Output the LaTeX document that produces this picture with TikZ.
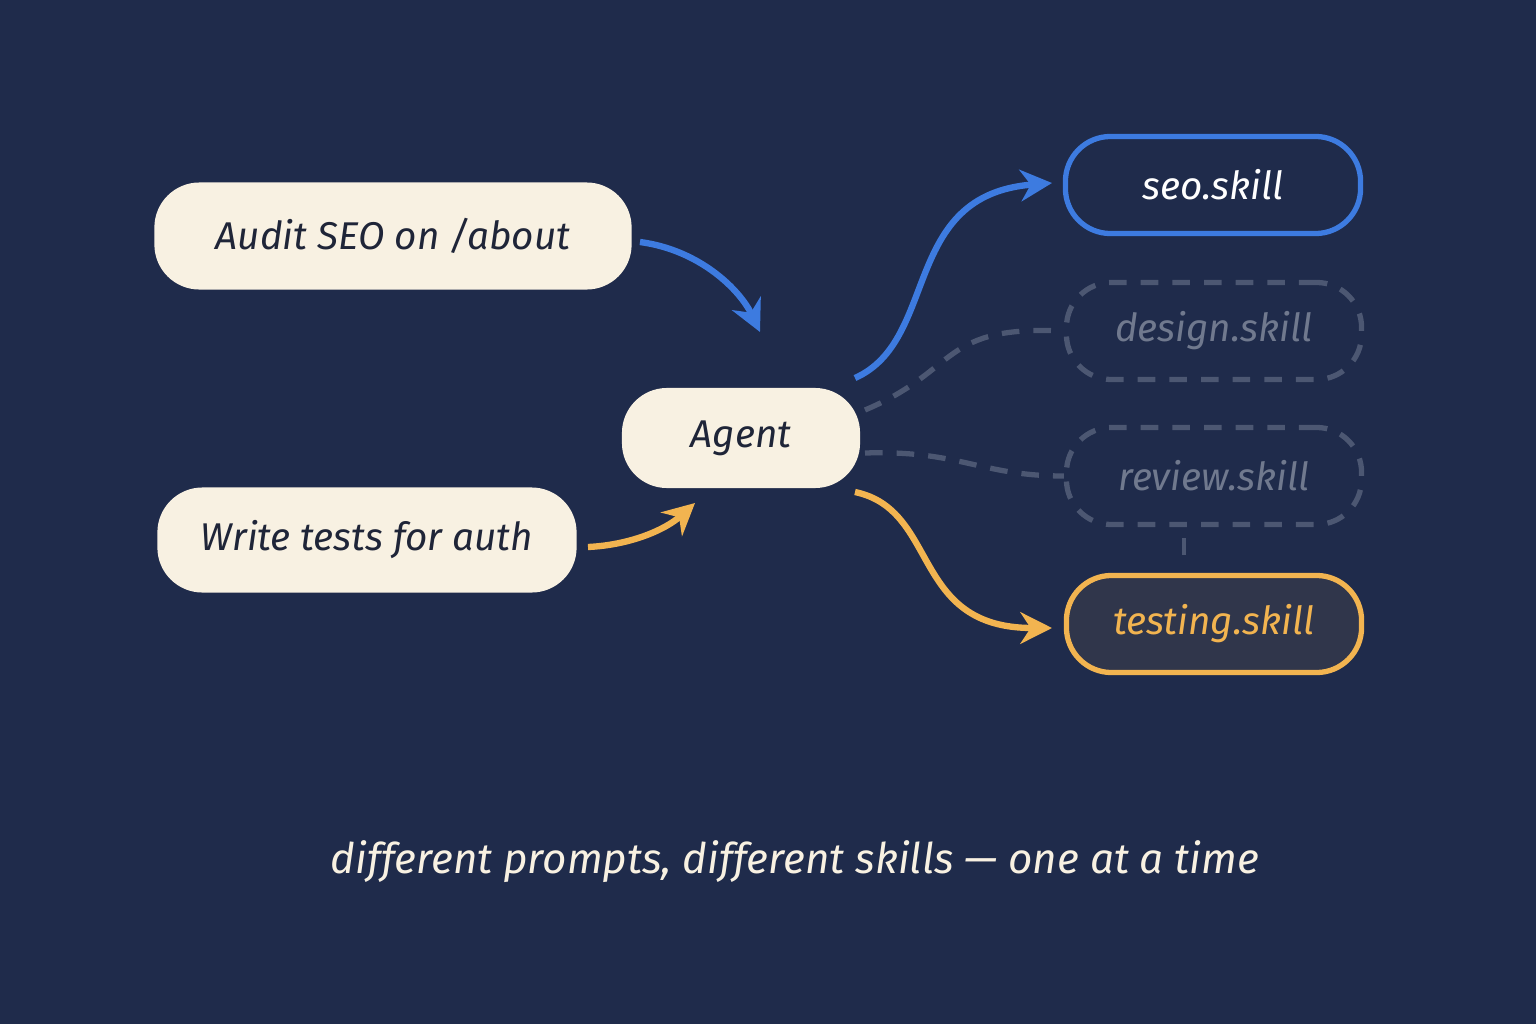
\documentclass[tikz,border=0pt]{standalone}
\usepackage{fontspec}
\setmainfont{Fira Sans}
\usetikzlibrary{arrows.meta}
\definecolor{bg}{HTML}{1F2B4B}
\definecolor{cream}{HTML}{F8F1E2}
\definecolor{blu}{HTML}{3D7BE0}
\definecolor{org}{HTML}{F2B450}
\definecolor{gry}{HTML}{4C5772}
\definecolor{txt}{HTML}{1F2538}
\begin{document}
\begin{tikzpicture}[x=0.01cm,y=-0.01cm,
 prompt/.style={fill=cream,rounded corners=0.45cm,font=\fontsize{11}{13}\selectfont\itshape,text=txt,inner sep=0},
 skill/.style={rounded corners=0.45cm,line width=1.5pt,minimum width=2.95cm,minimum height=0.97cm,font=\fontsize{11}{13}\selectfont\itshape,inner sep=0},
 conn/.style={line width=1.8pt,-{Stealth[length=9pt,width=9pt]}},
 dconn/.style={line width=1.5pt,gry,dash pattern=on 5pt off 4pt}]
\fill[bg] (0,0) rectangle (1536,1024);
\useasboundingbox (0,0) rectangle (1536,1024);
\node[prompt,minimum width=4.77cm,minimum height=1.07cm] (audit) at (393,236) {Audit SEO on /about};
\node[prompt,minimum width=4.19cm,minimum height=1.05cm] (write) at (367,540) {Write tests for auth};
\node[prompt,minimum width=2.38cm,minimum height=1.0cm] (agent) at (741,438) {Agent};
\node[skill,draw=blu,text=white,fill=bg] (seo) at (1213,185) {seo.skill};
\node[skill,draw=gry,dash pattern=on 5pt off 4pt,text=gry!80!white] (design) at (1214,331) {design.skill};
\node[skill,draw=gry,dash pattern=on 5pt off 4pt,text=gry!80!white] (review) at (1214,476) {review.skill};
\node[skill,draw=org,text=org,fill=org!8!bg] (testing) at (1214,624) {testing.skill};
\coordinate (t1) at (1184,538); \coordinate (t2) at (1184,555);
\draw[gry,line width=1pt] (t1) -- (t2);
\coordinate (a1) at (640,242); \coordinate (a2) at (760,332);
\draw[conn,blu] (a1) .. controls (700,250) and (740,290) .. (a2);
\coordinate (w1) at (588,547); \coordinate (w2) at (695,503);
\draw[conn,org] (w1) .. controls (630,545) and (665,530) .. (w2);
\coordinate (s1) at (855,378); \coordinate (s2) at (1052,183);
\draw[conn,blu] (s1) .. controls (940,340) and (900,195) .. (s2);
\coordinate (d1) at (865,410);
\draw[dconn] (d1) .. controls (960,370) and (940,325) .. (design.west);
\coordinate (r1) at (865,453);
\draw[dconn] (r1) .. controls (960,450) and (980,476) .. (review.west);
\coordinate (g1) at (855,492); \coordinate (g2) at (1052,628);
\draw[conn,org] (g1) .. controls (940,510) and (910,628) .. (g2);
\node[font=\fontsize{12}{15}\selectfont\itshape,text=cream] (cap) at (795,862) {different prompts, different skills — one at a time};
\end{tikzpicture}
\end{document}
